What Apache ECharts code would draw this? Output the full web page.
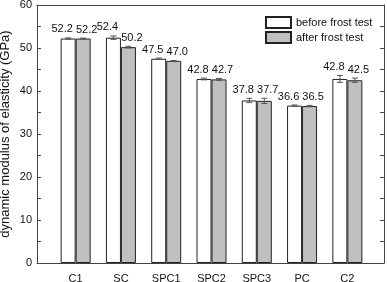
<!DOCTYPE html>
<html>
<head>
<meta charset="utf-8">
<script src="https://cdn.jsdelivr.net/npm/echarts@6/dist/echarts.min.js"></script>
<style>
  html, body { margin: 0; padding: 0; background: #fff; }
  #chart { width: 387px; height: 282px; }
</style>
</head>
<body>
<div id="chart"></div>
<script>
const categories = ['C1', 'SC', 'SPC1', 'SPC2', 'SPC3', 'PC', 'C2'];
const beforeVals = [52.2, 52.4, 47.5, 42.8, 37.8, 36.6, 42.8];
const afterVals = [52.2, 50.2, 47.0, 42.7, 37.7, 36.5, 42.5];
const beforeErr = [0.15, 0.4, 0.15, 0.2, 0.5, 0.15, 0.8];
const afterErr = [0.1, 0.2, 0.1, 0.2, 0.6, 0.15, 0.5];
const seriesNames = ['before frost test', 'after frost test'];

const axisColor = '#444';
const font = 'Arial, "Liberation Sans", sans-serif';

// error bar + value label for one series; dx = pixel shift of the bar centre
function errRender(vals, errs, dx, labelDx) {
  return function (params, api) {
    const i = api.value(0);
    const v = vals[i], e = errs[i];
    const c = api.coord([i, v]);
    const hi = api.coord([i, v + e]);
    const lo = api.coord([i, v - e]);
    const x = c[0] + dx;
    const w = 3;
    const st = { stroke: '#555', lineWidth: 1 };
    return {
      type: 'group',
      children: [
        { type: 'line', shape: { x1: x, y1: hi[1], x2: x, y2: lo[1] }, style: st },
        { type: 'line', shape: { x1: x - w, y1: hi[1], x2: x + w, y2: hi[1] }, style: st },
        { type: 'line', shape: { x1: x - w, y1: lo[1], x2: x + w, y2: lo[1] }, style: st },
        {
          type: 'text',
          x: x + labelDx,
          y: hi[1] - 3,
          style: {
            text: v.toFixed(1),
            textAlign: 'center',
            textVerticalAlign: 'bottom',
            fontSize: 11,
            fontFamily: font,
            fill: '#111'
          }
        }
      ]
    };
  };
}

const chart = echarts.init(document.getElementById('chart'), null, { renderer: 'canvas' });

const frameAxis = {
  axisLine: { show: true, onZero: false, lineStyle: { color: axisColor, width: 1 } },
  axisTick: { show: false },
  axisLabel: { show: false },
  splitLine: { show: false }
};

const option = {
  animation: false,
  grid: [
    { left: 37, top: 5, width: 347, height: 258, outerBoundsMode: 'none', containLabel: false },
    { left: 53, top: 5, width: 317, height: 258, outerBoundsMode: 'none', containLabel: false }
  ],
  legend: {
    data: seriesNames,
    orient: 'vertical',
    left: 265,
    top: 16,
    padding: 0,
    itemWidth: 25,
    itemHeight: 11,
    itemGap: 2,
    icon: 'rect',
    textStyle: { fontSize: 11, fontFamily: font, color: '#111' }
  },
  xAxis: [
    Object.assign({ type: 'value', gridIndex: 0, position: 'bottom', min: 0, max: 1 }, frameAxis),
    Object.assign({ type: 'value', gridIndex: 0, position: 'top', min: 0, max: 1 }, frameAxis),
    {
      type: 'category',
      gridIndex: 1,
      data: categories,
      axisLine: { show: false, onZero: false },
      axisTick: { show: false },
      axisLabel: { margin: 10, fontSize: 11, fontFamily: font, color: '#111' }
    }
  ],
  yAxis: [
    {
      type: 'value',
      gridIndex: 0,
      position: 'left',
      min: 0,
      max: 60,
      interval: 5,
      name: 'dynamic modulus of elasticity (GPa)',
      nameLocation: 'middle',
      nameGap: 25,
      nameMoveOverlap: false,
      nameTextStyle: { fontSize: 13, fontFamily: font, color: '#111' },
      axisLine: { show: true, onZero: false, lineStyle: { color: axisColor } },
      axisTick: { show: true, inside: true, length: 4, lineStyle: { color: axisColor } },
      axisLabel: {
        margin: 5, fontSize: 11, fontFamily: font, color: '#111',
        formatter: v => (v % 10 === 0 ? String(v) : '')
      },
      splitLine: { show: false }
    },
    {
      type: 'value',
      gridIndex: 0,
      position: 'right',
      min: 0,
      max: 60,
      interval: 5,
      axisLine: { show: true, onZero: false, lineStyle: { color: axisColor } },
      axisTick: { show: true, inside: true, length: 4, lineStyle: { color: axisColor } },
      axisLabel: { show: false },
      splitLine: { show: false }
    },
    { type: 'value', gridIndex: 1, min: 0, max: 60, show: false }
  ],
  series: [
    {
      name: seriesNames[0],
      type: 'bar',
      xAxisIndex: 2,
      yAxisIndex: 2,
      data: beforeVals,
      barWidth: 15,
      barGap: '0%',
      itemStyle: { color: '#ffffff', borderColor: '#222', borderWidth: 1 }
    },
    {
      name: seriesNames[1],
      type: 'bar',
      xAxisIndex: 2,
      yAxisIndex: 2,
      data: afterVals,
      barWidth: 15,
      barGap: '0%',
      itemStyle: { color: '#c0c0c0', borderColor: '#222', borderWidth: 1 }
    },
    {
      type: 'custom',
      xAxisIndex: 2,
      yAxisIndex: 2,
      data: categories.map((c, i) => [i]),
      renderItem: errRender(beforeVals, beforeErr, -7.5, -6),
      z: 5
    },
    {
      type: 'custom',
      xAxisIndex: 2,
      yAxisIndex: 2,
      data: categories.map((c, i) => [i]),
      renderItem: errRender(afterVals, afterErr, 7.5, 3.5),
      z: 5
    }
  ]
};

chart.setOption(option);
</script>
</body>
</html>
